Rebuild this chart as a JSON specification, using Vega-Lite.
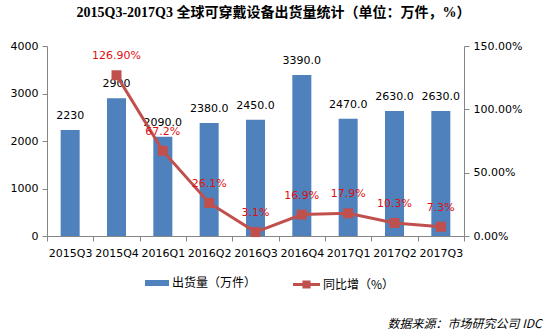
{
  "$schema": "https://vega.github.io/schema/vega-lite/v6.json",
  "autosize": {"type": "none"},
  "width": 417,
  "height": 190,
  "padding": {"left": 47, "top": 46, "right": 81, "bottom": 97},
  "background": "white",
  "title": {
    "text": "2015Q3-2017Q3 全球可穿戴设备出货量统计（单位：万件，%）",
    "font": "Liberation Serif, Noto Sans CJK SC",
    "fontSize": 14,
    "fontWeight": "bold",
    "color": "#000000",
    "anchor": "middle",
    "dx": 18,
    "offset": 20
  },
  "data": {
    "values": [
      {"q": "2015Q3", "shipments": 2230, "ship_label": "2230", "yoy": null, "yoy_label": ""},
      {"q": "2015Q4", "shipments": 2900, "ship_label": "2900", "yoy": 126.9, "yoy_label": "126.90%"},
      {"q": "2016Q1", "shipments": 2090, "ship_label": "2090.0", "yoy": 67.2, "yoy_label": "67.2%"},
      {"q": "2016Q2", "shipments": 2380, "ship_label": "2380.0", "yoy": 26.1, "yoy_label": "26.1%"},
      {"q": "2016Q3", "shipments": 2450, "ship_label": "2450.0", "yoy": 3.1, "yoy_label": "3.1%"},
      {"q": "2016Q4", "shipments": 3390, "ship_label": "3390.0", "yoy": 16.9, "yoy_label": "16.9%"},
      {"q": "2017Q1", "shipments": 2470, "ship_label": "2470.0", "yoy": 17.9, "yoy_label": "17.9%"},
      {"q": "2017Q2", "shipments": 2630, "ship_label": "2630.0", "yoy": 10.3, "yoy_label": "10.3%"},
      {"q": "2017Q3", "shipments": 2630, "ship_label": "2630.0", "yoy": 7.3, "yoy_label": "7.3%"}
    ]
  },
  "encoding": {
    "x": {
      "field": "q",
      "type": "nominal",
      "sort": null,
      "scale": {"paddingInner": 0, "paddingOuter": 0},
      "axis": {
        "title": "数据来源：市场研究公司 IDC",
        "titleFont": "Noto Sans CJK SC",
        "titleFontSize": 12,
        "titleFontWeight": "normal",
        "titleFontStyle": "italic",
        "titleColor": "#000000",
        "titleAnchor": "start",
        "titleAlign": "left",
        "titleBaseline": "middle",
        "titleX": 340,
        "titleY": 87,
        "labelAngle": 0,
        "labelFont": "DejaVu Sans",
        "labelFontSize": 11,
        "labelColor": "#000000",
        "labelPadding": 6,
        "tickBand": "extent",
        "tickSize": 5,
        "tickColor": "#868686",
        "domainColor": "#868686"
      }
    }
  },
  "layer": [
    {
      "encoding": {
        "y": {
          "field": "shipments",
          "type": "quantitative",
          "scale": {"domain": [0, 4000], "nice": false},
          "axis": {
            "orient": "left",
            "values": [0, 1000, 2000, 3000, 4000],
            "format": "d",
            "grid": false,
            "title": null,
            "domainColor": "#868686",
            "tickColor": "#868686",
            "tickSize": 5,
            "labelFont": "DejaVu Sans",
            "labelFontSize": 11,
            "labelColor": "#000000",
            "labelPadding": 4
          }
        }
      },
      "layer": [
        {
          "mark": {"type": "bar", "size": 19},
          "encoding": {
            "fill": {
              "datum": "出货量（万件）",
              "scale": {"range": ["#4F81BD"]},
              "legend": {
                "orient": "none",
                "legendX": 98,
                "legendY": 225,
                "title": null,
                "symbolType": "M-1,-0.25L1,-0.25L1,0.25L-1,0.25Z",
                "symbolSize": 576,
                "symbolStrokeWidth": 0,
                "labelFont": "Noto Sans CJK SC",
                "labelFontSize": 12,
                "labelColor": "#000000",
                "labelOffset": 3
              }
            }
          }
        },
        {
          "mark": {"type": "text", "dy": -14, "baseline": "middle", "font": "DejaVu Sans", "fontSize": 11, "color": "#000000"},
          "encoding": {"text": {"field": "ship_label"}}
        }
      ]
    },
    {
      "transform": [{"filter": "isValid(datum.yoy)"}],
      "encoding": {
        "y": {
          "field": "yoy",
          "type": "quantitative",
          "scale": {"domain": [0, 150], "nice": false},
          "axis": {
            "orient": "right",
            "values": [0, 50, 100, 150],
            "labelExpr": "format(datum.value, '.2f') + '%'",
            "grid": false,
            "title": null,
            "domainColor": "#868686",
            "tickColor": "#868686",
            "tickSize": 5,
            "labelFont": "DejaVu Sans",
            "labelFontSize": 11,
            "labelColor": "#000000",
            "labelPadding": 4
          }
        }
      },
      "layer": [
        {
          "mark": {"type": "line", "strokeWidth": 3},
          "encoding": {
            "stroke": {
              "datum": "同比增（%）",
              "scale": {"range": ["#C0504D"]},
              "legend": {
                "orient": "none",
                "legendX": 246,
                "legendY": 225,
                "title": null,
                "symbolType": "M-1,-0.11L1,-0.11L1,0.11L-1,0.11Z M-0.3,-0.3L0.3,-0.3L0.3,0.3L-0.3,0.3Z",
                "symbolSize": 729,
                "symbolFillColor": "#C0504D",
                "symbolStrokeWidth": 0,
                "labelFont": "Noto Sans CJK SC",
                "labelFontSize": 12,
                "labelColor": "#000000",
                "labelOffset": 3
              }
            }
          }
        },
        {
          "mark": {"type": "point", "shape": "square", "filled": true, "size": 100, "color": "#C0504D", "opacity": 1}
        },
        {
          "mark": {"type": "text", "dy": -19, "baseline": "middle", "font": "DejaVu Sans", "fontSize": 11, "color": "#DD1111"},
          "encoding": {"text": {"field": "yoy_label"}}
        }
      ]
    }
  ],
  "resolve": {"scale": {"y": "independent", "fill": "independent", "stroke": "independent"}},
  "config": {"view": {"stroke": null}}
}
